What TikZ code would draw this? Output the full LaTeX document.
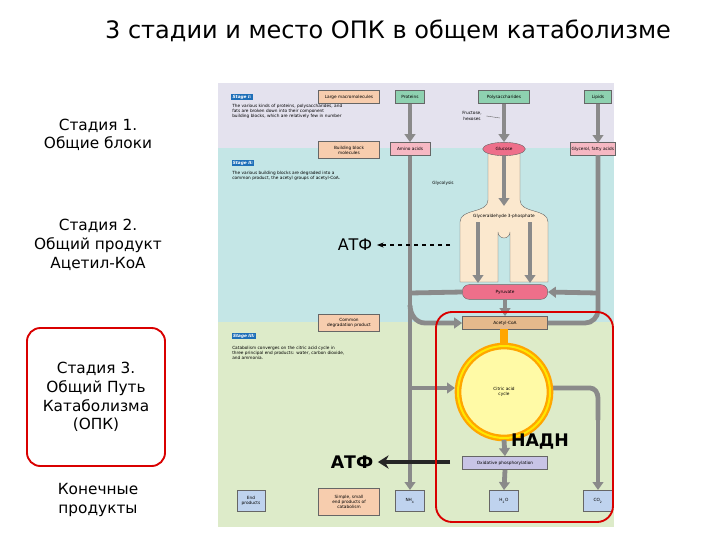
\documentclass[tikz,border=0pt]{standalone}
\usepackage{fontspec}
\setmainfont{DejaVu Sans}
\usetikzlibrary{arrows.meta,shapes.geometric}
\definecolor{bandA}{HTML}{E4E2EE}
\definecolor{bandB}{HTML}{C4E6E6}
\definecolor{bandC}{HTML}{DDEBC9}
\definecolor{peach}{HTML}{F7CDAE}
\definecolor{mint}{HTML}{8ED1B0}
\definecolor{pinkb}{HTML}{F6B8C3}
\definecolor{pinko}{HTML}{EE6F8A}
\definecolor{tan}{HTML}{E5B98C}
\definecolor{lav}{HTML}{C8C4E6}
\definecolor{endb}{HTML}{BFD3EE}
\definecolor{beige}{HTML}{FBE8CE}
\definecolor{stg}{HTML}{1E6FB8}
\definecolor{garr}{HTML}{8A8A8A}
\tikzset{
 lbl/.style={font=\fontsize{11.5}{14}\selectfont, align=center},
 tiny/.style={font=\fontsize{3.2}{3.8}\selectfont, align=center},
 tinyl/.style={font=\fontsize{3.2}{3.8}\selectfont, align=left, anchor=north west, text width=190pt, inner sep=0},
 bx/.style={draw=black!60, line width=0.3pt, inner sep=1pt, tiny},
 stage/.style={fill=stg, text=white, font=\fontsize{3.2}{3.8}\selectfont\bfseries\itshape, inner sep=1pt},
 ga/.style={draw=garr, line width=3.6pt, -{Triangle[length=6pt,width=8pt]}},
 gl/.style={draw=garr, line width=3.6pt},
}
\begin{document}
\begin{tikzpicture}[x=0.75pt,y=-0.75pt]
\useasboundingbox (0,0) rectangle (720,540);
\fill[white] (0,0) rectangle (720,540);
\node[font=\fontsize{18}{21}\selectfont] (title) at (388,31) {3 стадии и место ОПК в общем катаболизме};
\node[lbl] (s1) at (98,135) {Стадия 1.\\Общие блоки};
\node[lbl] (s2) at (98,245) {Стадия 2.\\Общий продукт\\Ацетил-КоА};
\node[lbl] (s3) at (96,397) {Стадия 3.\\Общий Путь\\Катаболизма\\(ОПК)};
\draw[red!85!black, line width=1.4pt, rounded corners=10pt] (27,328) rectangle (165,466);
\node[lbl] (s4) at (98,500) {Конечные\\продукты};
% panel bands
\fill[bandA] (218,83) rectangle (614,148);
\fill[bandB] (218,148) rectangle (614,322);
\fill[bandC] (218,322) rectangle (614,527);
% stage texts
\node[stage] (st1) at (242,97) {Stage I:};
\node[tinyl] (t1) at (232,104) {The various kinds of proteins, polysaccharides, and\\fats are broken down into their component\\building blocks, which are relatively few in number};
\node[stage] (st2) at (243,163) {Stage II:};
\node[tinyl] (t2) at (232,171) {The various building blocks are degraded into a\\common product, the acetyl groups of acetyl-CoA.};
\node[stage] (st3) at (244,336) {Stage III:};
\node[tinyl] (t3) at (232,346) {Catabolism converges on the citric acid cycle in\\three principal end products: water, carbon dioxide,\\and ammonia.};
\node[bx, fill=peach, minimum width=46pt, minimum height=10pt] (lm) at (349,97) {Large macromolecules};
\node[bx, fill=peach, minimum width=46pt, minimum height=13pt] (bb) at (349,150) {Building block\\molecules};
\node[bx, fill=peach, minimum width=46pt, minimum height=13pt] (cd) at (349,323) {Common\\degradation product};
\node[bx, fill=peach, minimum width=46pt, minimum height=20pt] (ss) at (349,502) {Simple, small\\end products of\\catabolism};
\node[bx, fill=endb, minimum width=21pt, minimum height=16pt] (ep) at (251,501) {End\\products};
% top molecules
\node[bx, fill=mint, minimum width=22pt, minimum height=10pt] (pr) at (410,97) {Proteins};
\node[bx, fill=mint, minimum width=38pt, minimum height=10pt] (ps) at (504,97) {Polysaccharides};
\node[bx, fill=mint, minimum width=20pt, minimum height=10pt] (li) at (598,97) {Lipids};
\node[tiny] (fr) at (472,116) {Fructose,\\hexoses};
% glycolysis funnel
\fill[beige, draw=black!60, line width=0.3pt] (488,152) -- (488,200) to[out=-90,in=90] (460,222) -- (460,282)
 -- (498,282) -- (498,232) arc[start angle=180,end angle=0,radius=6] -- (510,282) -- (548,282) -- (548,222) to[out=90,in=-90] (520,200) -- (520,152) -- cycle;
\node[tiny] (gly) at (443,183) {Glycolysis};
\node[tiny] (g3p) at (504,216) {Glyceraldehyde 3-phosphate};
% building blocks
\node[bx, fill=pinkb, minimum width=30pt, minimum height=10pt] (aa) at (410,149) {Amino acids};
\node[bx, fill=pinko, ellipse, minimum width=32pt, minimum height=10pt, draw=black!60] (gl) at (504,149) {Glucose};
\node[bx, fill=pinkb, minimum width=33pt, minimum height=10pt, anchor=west] (gf) at (570,149) {Glycerol, fatty acids};
\node[bx, fill=pinko, rounded corners=5pt, minimum width=64pt, minimum height=11pt] (py) at (505,292) {Pyruvate};
\node[bx, fill=tan, minimum width=64pt, minimum height=10pt] (ac) at (505,323) {Acetyl-CoA};
% citric acid cycle
\coordinate (cc) at (504,392);
\draw[gl] (410,293) -- (py.west);
\draw[ga] (410,305) to[out=-90,in=180] (425,323) -- (ac.west);
\draw[gl] (598,155) -- (598,310) to[out=-90,in=0] (585,323) -- (ac.east);
\draw[ga] (598,293) -- (py.east);
\draw[ga] (410,388) -- (455,388);
\draw[ga] (pr.south) -- (aa.north);
\draw[ga] (ps.south) -- (gl.north);
\draw[ga] (li.south) -- (598,143);
\draw[ga] (aa.south) -- (410,490);
\draw[black!60, line width=0.3pt] (fr.east) -- (500,118);
\draw[ga] (504,156) -- (504,206);
\draw[ga] (478,222) -- (478,283);
\draw[ga] (530,222) -- (530,283);
\draw[ga] (py.south) -- (ac.north);
\draw[gl] (552,388) -- (590,388) to[out=0,in=90] (598,398) -- (598,420);
\draw[ga] (598,415) -- (598,490);
\fill[orange!70!yellow] (500,329) rectangle (508,344);
\draw[orange!70!yellow, line width=5pt, fill=yellow!35] (cc) circle[radius=46];
\draw[yellow!90!orange, line width=1.5pt] (cc) circle[radius=46];
\node[tiny] (cac) at (504,392) {Citric acid\\cycle};
\node[bx, fill=lav, minimum width=64pt, minimum height=10pt] (ox) at (505,463) {Oxidative phosphorylation};
\draw[ga] (504,440) -- (ox.north);
\node[bx, fill=endb, minimum width=22pt, minimum height=16pt] (nh) at (410,501) {NH\textsubscript{4}};
\node[bx, fill=endb, minimum width=22pt, minimum height=16pt] (ho) at (504,501) {H\textsubscript{2}O};
\node[bx, fill=endb, minimum width=22pt, minimum height=16pt] (co) at (598,501) {CO\textsubscript{2}};
\draw[ga] (ox.south) -- (ho.north);
% ATP labels
\node[font=\fontsize{12}{14}\selectfont] (atp1) at (355,245) {АТФ};
\coordinate (d1) at (450,245);
\draw[dashed, line width=1pt, -{Stealth[length=5pt]}] (d1) -- (atp1.east);
\node[font=\fontsize{13}{15}\selectfont\bfseries] (atp2) at (352,462) {АТФ};
\coordinate (d2) at (450,462);
\draw[line width=3pt, black!85, -{Stealth[length=8pt,width=10pt]}] (d2) -- (atp2.east);
\node[font=\fontsize{13}{15}\selectfont\bfseries] (nadh) at (540,442) {НАДН};
\draw[red!85!black, line width=1.4pt, rounded corners=12pt] (436,312) rectangle (613,522);
\end{tikzpicture}
\end{document}
